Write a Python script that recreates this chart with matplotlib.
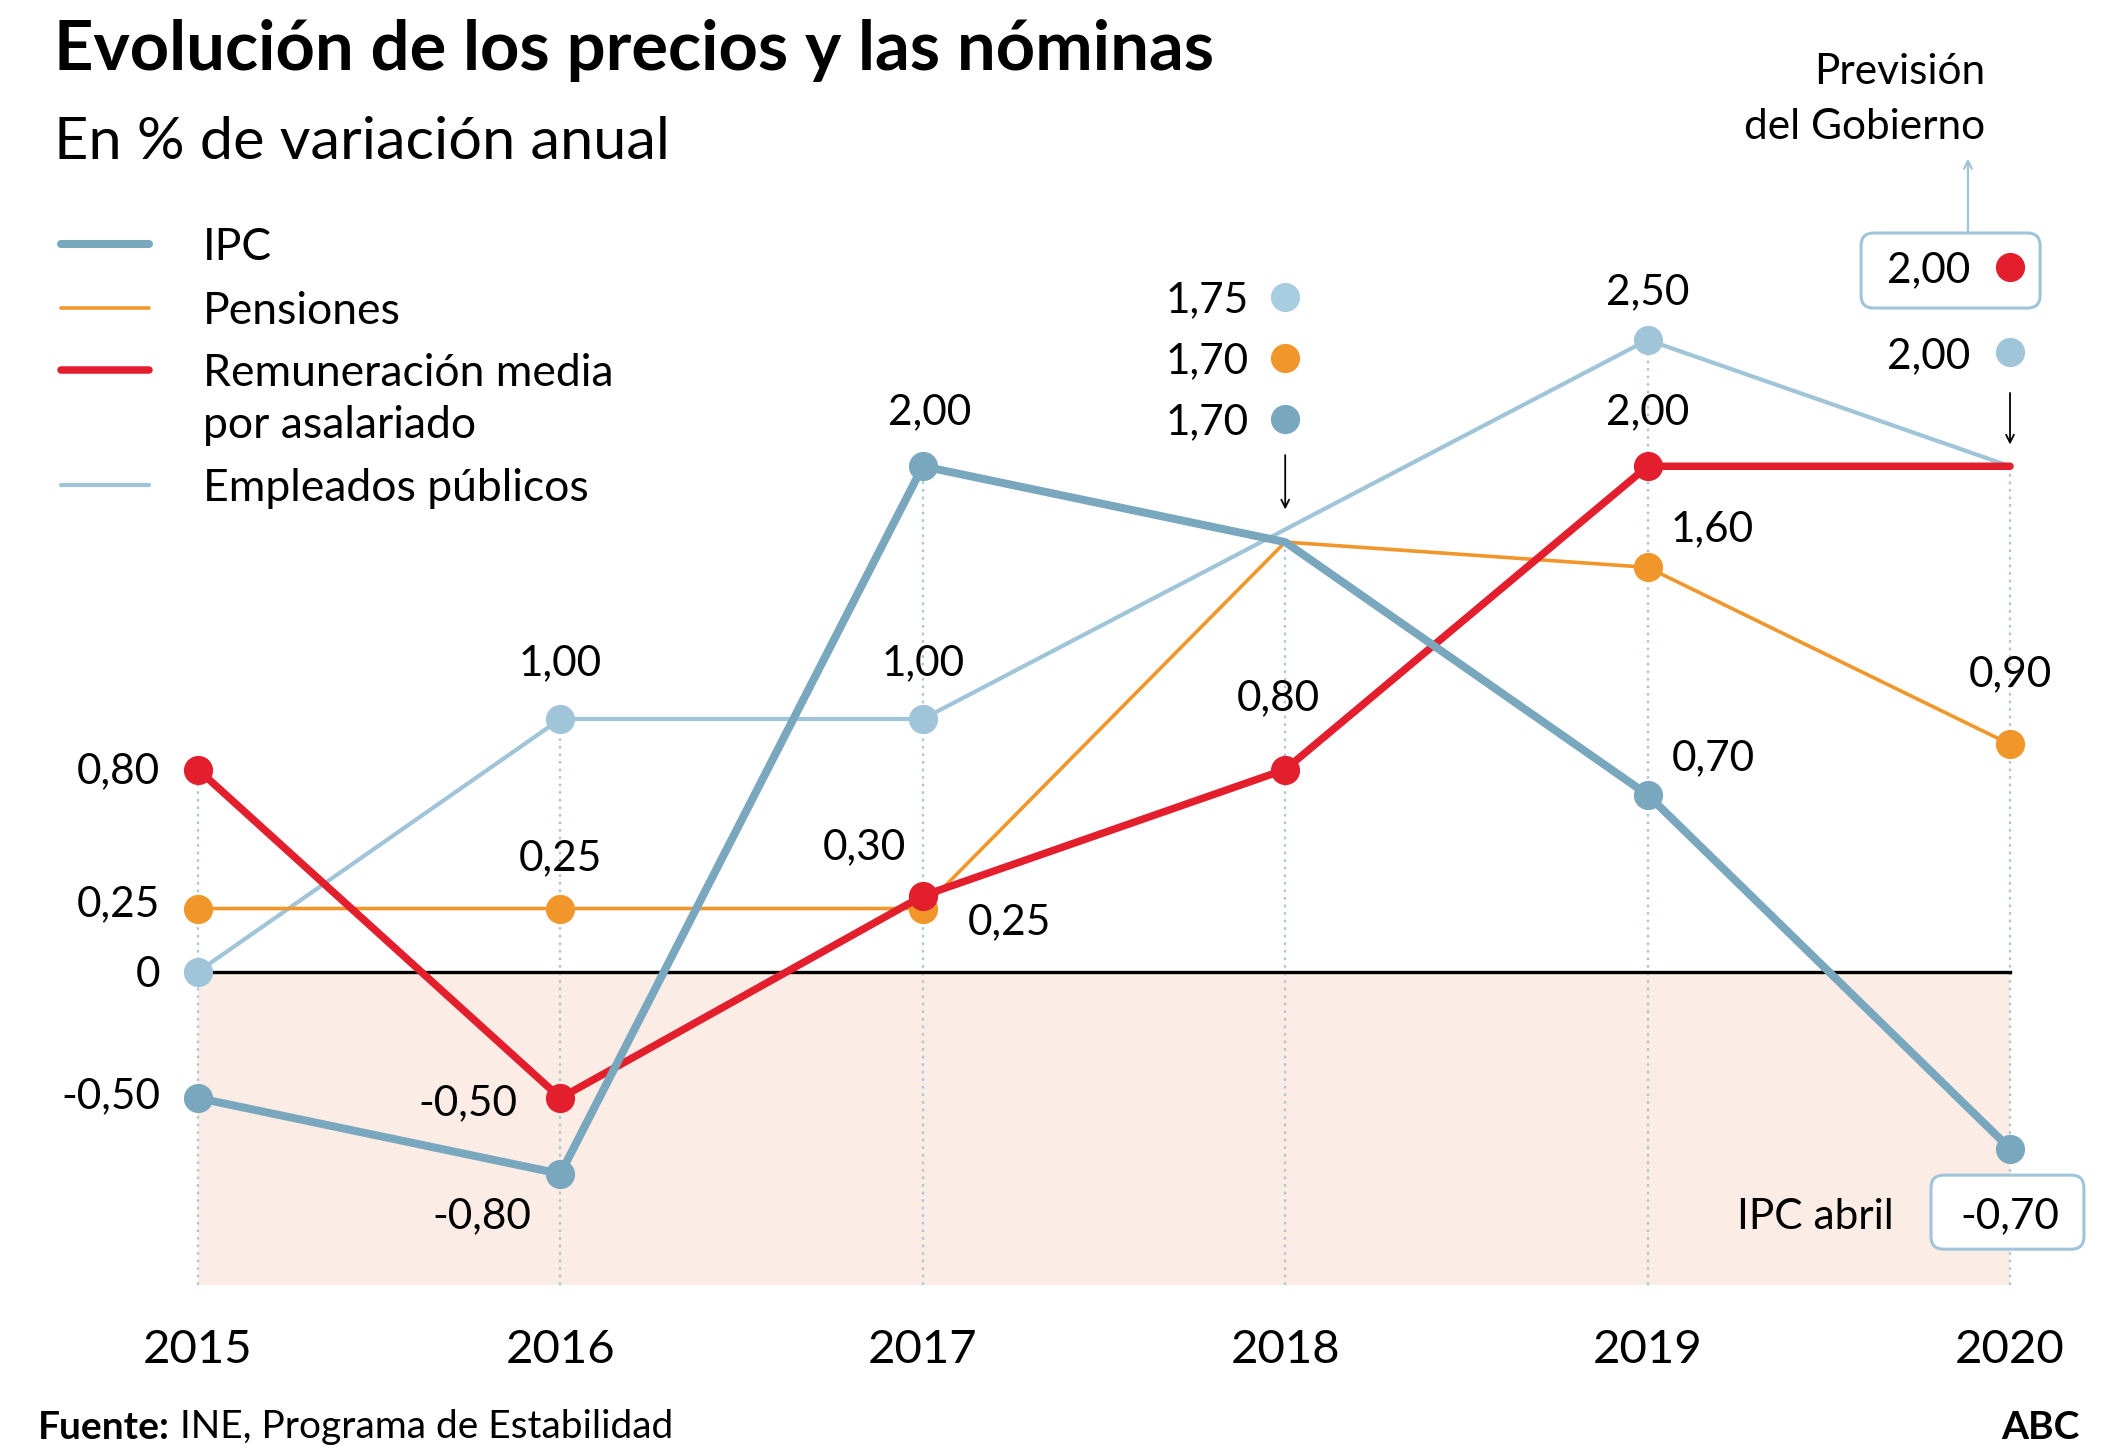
import matplotlib
matplotlib.use("Agg")
import matplotlib.pyplot as plt
from matplotlib.patches import FancyBboxPatch

# ---------------- data ----------------
years = [2015, 2016, 2017, 2018, 2019, 2020]
ipc = [-0.50, -0.80, 2.00, 1.70, 0.70, -0.70]
pensiones = [0.25, 0.25, 0.25, 1.70, 1.60, 0.90]
remuneracion = [0.80, -0.50, 0.30, 0.80, 2.00, 2.00]
empleados = [0.00, 1.00, 1.00, 1.75, 2.50, 2.00]
series_labels = ["IPC", "Pensiones", "Remuneración media\npor asalariado", "Empleados públicos"]
year_labels = ["2015", "2016", "2017", "2018", "2019", "2020"]

# ---------------- style ----------------
FONT = "Lato"
plt.rcParams["font.family"] = [FONT, "DejaVu Sans"]
C_IPC = "#79a7bd"
C_PEN = "#f0962a"
C_REM = "#e31e2d"
C_EMP = "#a0c4d8"
C_EMP_DOT = "#a9cde0"
C_SHADE = "#fcece6"
C_GRID = "#a9c6d6"

W, H = 2125, 1455
fig = plt.figure(figsize=(W / 100, H / 100), dpi=100)
ax = fig.add_axes([0, 0, 1, 1])
ax.set_xlim(2014.4536, 2020.3173)
ax.set_ylim(-1.9125, 3.845)
ax.axis("off")

def fmt(v):
    s = f"{v:.2f}".replace(".", ",")
    return "0" if v == 0 else s

LBL = 30.5
LEG = 32
BOTTOM = -1.239

# shaded negative area
ax.fill_between([years[0], years[-1]], BOTTOM, 0, color=C_SHADE, lw=0, zorder=0)

# vertical dotted guide lines up to the top value of each year
for i, yr in enumerate(years):
    top = max(ipc[i], pensiones[i], remuneracion[i], empleados[i])
    if yr == 2018:
        top = max(ipc[i], pensiones[i])
    ax.plot([yr, yr], [BOTTOM, top], color=C_GRID, lw=1.6, ls=(0, (1.2, 2.2)), zorder=1)

# zero line
ax.plot([years[0], years[-1]], [0, 0], color="black", lw=2.4, zorder=2)

MS = 20
ax.plot(years, empleados, color=C_EMP, lw=3.0, marker="o", ms=MS,
        markevery=[0, 1, 2, 4], zorder=3, solid_capstyle="round")
ax.plot(years, pensiones, color=C_PEN, lw=2.6, marker="o", ms=MS,
        markevery=[0, 1, 2, 4, 5], zorder=4)
ax.plot(years, remuneracion, color=C_REM, lw=5.4, marker="o", ms=MS,
        markevery=[0, 1, 2, 3, 4], zorder=5, solid_capstyle="round")
ax.plot(years, ipc, color=C_IPC, lw=5.8, marker="o", ms=MS,
        markevery=[0, 1, 2, 4, 5], zorder=6, solid_capstyle="round")

# ---------------- legend ----------------
leg_y = [2.880, 2.628, 2.381, 1.926]
leg_c = [C_IPC, C_PEN, C_REM, C_EMP]
leg_w = [5.8, 2.6, 5.4, 3.0]
for lab_txt, yy, c, w in zip(series_labels, leg_y, leg_c, leg_w):
    ax.plot([2014.622, 2014.865], [yy, yy], color=c, lw=w, solid_capstyle="round")
    for k, line in enumerate(lab_txt.split("\n")):
        ax.text(2015.014, yy - k * 0.204, line, fontsize=LEG, ha="left",
                va="center_baseline")

# ---------------- data labels ----------------
def lab(x, y, v, ha="center", size=LBL):
    ax.text(x, y, fmt(v), fontsize=size, ha=ha, va="center_baseline", zorder=10)

# 2015 (left side)
lab(2014.895, 0.806, remuneracion[0], ha="right")
lab(2014.895, 0.28, pensiones[0], ha="right")
lab(2014.895, 0.0, empleados[0], ha="right")
lab(2014.895, -0.477, ipc[0], ha="right")
# 2016
lab(2016.0, 1.233, empleados[1])
lab(2016.0, 0.462, pensiones[1])
lab(2015.744, -0.508, remuneracion[1])
lab(2015.782, -0.955, ipc[1])
# 2017
lab(2017.018, 2.226, ipc[2])
lab(2017.0, 1.233, empleados[2])
lab(2016.839, 0.505, remuneracion[2])
lab(2017.239, 0.209, pensiones[2])
# 2018
lab(2017.98, 1.095, remuneracion[3])
for yy, v, c in [(2.671, empleados[3], C_EMP_DOT), (2.429, pensiones[3], C_PEN),
                 (2.188, ipc[3], C_IPC)]:
    lab(2017.90, yy, v, ha="right")
    ax.plot([2018.0], [yy], "o", color=c, ms=MS, zorder=10)
ax.annotate("", xy=(2018.0, 1.829), xytext=(2018.0, 2.044),
            arrowprops=dict(arrowstyle="->", color="black", lw=1.3,
                            mutation_scale=14, shrinkA=0, shrinkB=0))
# 2019
lab(2019.0, 2.703, empleados[4])
lab(2019.0, 2.226, remuneracion[4])
lab(2019.177, 1.765, pensiones[4])
lab(2019.18, 0.858, ipc[4])
# 2020
lab(2020.0, 1.191, pensiones[5])

# Previsión del Gobierno box
box1 = FancyBboxPatch((2019.589, 2.626), 2020.083 - 2019.589, 2.923 - 2.626,
                      boxstyle="round,pad=0,rounding_size=0.035",
                      mutation_aspect=1.434, fc="white", ec=C_EMP, lw=2.2, zorder=8)
ax.add_patch(box1)
lab(2019.89, 2.789, remuneracion[5], ha="right")
ax.plot([2020.0], [2.789], "o", color=C_REM, ms=MS, zorder=10)
lab(2019.89, 2.451, empleados[5], ha="right")
ax.plot([2020.0], [2.451], "o", color=C_EMP, ms=MS, zorder=10)
ax.annotate("", xy=(2019.884, 3.218), xytext=(2019.884, 2.923),
            arrowprops=dict(arrowstyle="->", color=C_EMP, lw=1.6,
                            mutation_scale=14, shrinkA=0, shrinkB=0))
ax.annotate("", xy=(2020.0, 2.086), xytext=(2020.0, 2.29),
            arrowprops=dict(arrowstyle="->", color="black", lw=1.3,
                            mutation_scale=14, shrinkA=0, shrinkB=0))
ax.text(2019.932, 3.572, "Previsión", fontsize=LBL, ha="right", va="center_baseline")
ax.text(2019.932, 3.358, "del Gobierno", fontsize=LBL, ha="right", va="center_baseline")

# IPC abril box
box2 = FancyBboxPatch((2019.782, -1.098), 2020.204 - 2019.782, -0.805 + 1.098,
                      boxstyle="round,pad=0,rounding_size=0.035",
                      mutation_aspect=1.434, fc="white", ec=C_EMP, lw=2.2, zorder=8)
ax.add_patch(box2)
lab(2020.0, -0.955, ipc[5])
ax.text(2019.464, -0.955, "IPC abril", fontsize=LBL, ha="center", va="center_baseline")

# year labels
for yr, t in zip(years, year_labels):
    ax.text(yr, -1.548, t, fontsize=34, ha="center", va="baseline")

# ---------------- titles & footer ----------------
fig.text(54 / W, 1 - 70 / H, "Evolución de los precios y las nóminas",
         fontsize=49.5, fontweight="bold", ha="left", va="baseline")
fig.text(54 / W, 1 - 159 / H, "En % de variación anual",
         fontsize=42.8, ha="left", va="baseline")
t1 = fig.text(38 / W, 1 - 1439 / H, "Fuente:", fontsize=28, fontweight="bold",
              ha="left", va="baseline")
ax.annotate(" INE, Programa de Estabilidad", xy=(1, 0), xycoords=t1,
            fontsize=28, ha="left", va="bottom")
fig.text(2080 / W, 1 - 1439 / H, "ABC", fontsize=28, fontweight="bold",
         ha="right", va="baseline")

fig.savefig("out.png", dpi=100, facecolor="white")
